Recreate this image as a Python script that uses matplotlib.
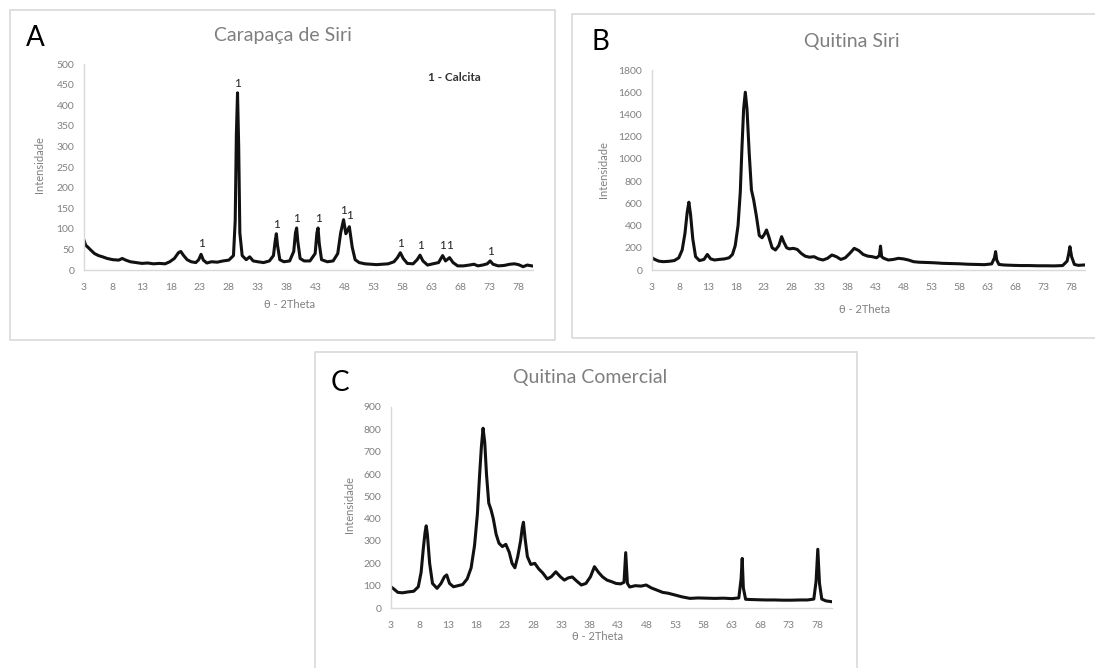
import matplotlib
matplotlib.use('Agg')
import matplotlib.pyplot as plt
from matplotlib.patches import Rectangle

plt.rcParams['font.family'] = ['Lato', 'DejaVu Sans']

# --- A: Carapaça de Siri ---
a_theta = [3, 3.3, 3.7, 4.2, 4.8, 5.5, 6.2, 7, 8, 9, 9.6, 10.2, 11, 12, 13, 14, 15, 16, 17, 17.8,
           18.6, 19.3, 19.7, 20.2, 20.8, 21.5, 22.3, 22.8, 23.2, 23.6, 24.2, 25, 26, 27, 28, 28.8,
           29.1, 29.3, 29.5, 29.7, 29.9, 30.3, 31, 31.6, 32.2, 33, 34, 35, 35.7, 36.0, 36.2, 36.4,
           36.8, 37.5, 38.5, 39.2, 39.5, 39.7, 39.9, 40.3, 41, 42, 42.9, 43.2, 43.4, 43.6, 44, 45,
           46, 46.8, 47.3, 47.8, 48.2, 48.8, 49.3, 49.8, 50.5, 51.5, 52.5, 53.5, 54.5, 55.5, 56.5,
           57.1, 57.6, 58.1, 58.8, 59.8, 60.5, 61.0, 61.5, 62.3, 63.2, 64.2, 64.9, 65.4, 66.1, 66.7,
           67.5, 68.5, 69.5, 70.3, 71, 71.8, 72.6, 73.1, 73.6, 74.5, 75.5, 76.5, 77.3, 78, 78.8,
           79.5, 80.3]
a_int = [72, 60, 55, 48, 40, 35, 32, 28, 25, 24, 28, 24, 20, 18, 16, 17, 15, 16, 15, 20,
         28, 42, 45, 35, 25, 20, 18, 25, 38, 24, 17, 20, 19, 22, 24, 35,
         120, 330, 430, 300, 90, 35, 25, 32, 22, 20, 18, 22, 35, 70, 88, 60,
         25, 20, 22, 45, 90, 102, 70, 28, 22, 22, 40, 90, 102, 65, 25, 20,
         22, 40, 90, 122, 88, 105, 55, 25, 18, 15, 14, 13, 14, 15, 20,
         30, 42, 28, 16, 15, 25, 36, 22, 12, 15, 18, 35, 22, 30, 18,
         10, 10, 12, 14, 10, 12, 15, 22, 14, 10, 11, 14, 15, 13, 8,
         12, 10]
a_peak_theta = [23.2, 29.5, 36.2, 39.7, 43.4, 47.8, 48.9, 57.6, 61.0, 64.9, 66.1, 73.1]
a_peak_label_y = [50, 440, 98, 112, 112, 132, 118, 52, 46, 45, 45, 32]

# --- B: Quitina Siri ---
b_theta = [3, 3.5, 4.2, 5, 6, 7, 7.8, 8.4, 8.9, 9.3, 9.6, 9.9, 10.3, 10.8, 11.5, 12.3, 12.9, 13.5,
           14.2, 15, 16, 16.8, 17.4, 17.9, 18.4, 18.8, 19.1, 19.4, 19.7, 20.0, 20.4, 20.8, 21.2,
           21.7, 22.2, 22.7, 23.1, 23.5, 23.9, 24.5, 25.1, 25.7, 26.2, 26.6, 27.1, 27.6, 28.3,
           29.0, 29.7, 30.4, 31.2, 32, 32.8, 33.6, 34.4, 35.2, 36, 36.8, 37.6, 38.4, 39.2, 40,
           40.8, 41.6, 42.4, 43.2, 43.7, 43.9, 44.1, 44.5, 45.3, 46.2, 47.1, 48, 48.9, 49.8, 50.8,
           52, 53.5, 55, 56.5, 58, 59.5, 61, 62.5, 63.8, 64.3, 64.5, 64.7, 65.1, 66, 67.5, 69,
           70.5, 72, 73.5, 75, 76.5, 77.3, 77.6, 77.8, 78.1, 78.6, 79.3, 80.3]
b_int = [110, 95, 80, 75, 78, 85, 110, 180, 330, 520, 610, 500, 280, 120, 85, 95, 140, 100,
         90, 95, 100, 110, 140, 220, 400, 700, 1100, 1450, 1600, 1450, 1050, 720, 630,
         480, 310, 290, 320, 360, 300, 200, 180, 220, 300, 250, 200, 190, 195,
         185, 150, 125, 115, 120, 100, 90, 105, 135, 120, 95, 110, 150, 195, 175,
         140, 125, 120, 110, 130, 215, 120, 105, 90, 95, 105, 100, 90, 75, 70,
         68, 65, 60, 58, 56, 52, 50, 48, 55, 110, 165, 90, 50, 45, 42, 40,
         40, 38, 38, 37, 40, 80, 150, 210, 120, 50, 42, 45]

# --- C: Quitina Comercial ---
c_theta = [3, 3.5, 4.2, 5, 6, 7, 7.8, 8.3, 8.7, 9.0, 9.2, 9.4, 9.8, 10.3, 11.1, 11.8, 12.4, 12.8,
           13.3, 14, 14.8, 15.6, 16.4, 17.1, 17.7, 18.2, 18.6, 18.9, 19.2, 19.5, 19.8, 20.2, 20.6,
           21.0, 21.5, 22, 22.6, 23.2, 23.8, 24.3, 24.8, 25.3, 25.8, 26.1, 26.3, 26.6, 27.0, 27.6,
           28.3, 29.0, 29.7, 30.5, 31.2, 32, 32.8, 33.5, 34.2, 34.9, 35.7, 36.5, 37.3, 38.1, 38.8,
           39.5, 40.2, 41, 41.8, 42.6, 43.4, 44.0, 44.3, 44.6, 45.0, 46, 47, 47.9, 48.8, 49.8,
           50.8, 51.8, 53, 54.2, 55.6, 57, 58.5, 60, 61.5, 63, 64.2, 64.6, 64.8, 65.0, 65.4, 66.2,
           67.5, 69, 70.5, 72, 73.5, 75, 76.3, 77.4, 77.8, 78.1, 78.4, 78.8, 79.5, 80.6]
c_int = [95, 85, 70, 68, 72, 75, 95, 160, 270, 340, 368, 330, 200, 110, 88, 110, 140, 148,
         110, 95, 100, 105, 130, 180, 280, 420, 600, 720, 805, 740, 600, 470, 440,
         400, 330, 290, 275, 285, 250, 200, 180, 230, 300, 360, 384, 310, 230, 195,
         200, 175, 157, 130, 140, 162, 140, 125, 135, 139, 120, 103, 110, 140, 185,
         160, 140, 125, 118, 110, 108, 115, 248, 110, 94, 100, 98, 103, 90, 80,
         70, 66, 58, 50, 43, 45, 44, 43, 44, 42, 45, 130, 222, 90, 39,
         38, 37, 36, 36, 35, 35, 36, 36, 40, 120, 263, 110, 40, 32, 28]

x_ticks = list(range(3, 80, 5))
a_yticks = list(range(0, 501, 50))
b_yticks = list(range(0, 1801, 200))
c_yticks = list(range(0, 901, 100))

GRAY = '#808080'
AXIS = '#d9d9d9'

fig = plt.figure(figsize=(10.95, 6.68), dpi=100)

# panel frames (pixels: x0, y0 top, x1, y1 bottom)
frames = [(10, 10, 555, 340), (572, 14, 1100, 338), (315, 352, 857, 672)]
for x0, y0, x1, y1 in frames:
    fig.patches.append(Rectangle((x0 / 1095, 1 - y1 / 668), (x1 - x0) / 1095, (y1 - y0) / 668,
                                 transform=fig.transFigure, fill=False, edgecolor=AXIS, lw=1.2))


def make_axes(rect, theta, inten, yticks, xmax):
    ax = fig.add_axes(rect)
    ax.plot(theta, inten, color='#111111', lw=2.2, solid_joinstyle='round')
    ax.set_xlim(3, xmax)
    ax.set_ylim(0, yticks[-1])
    ax.set_xticks(x_ticks)
    ax.set_yticks(yticks)
    ax.tick_params(length=0, labelsize=7.5, labelcolor=GRAY)
    ax.tick_params(axis='x', pad=9)
    ax.tick_params(axis='y', pad=7)
    for side in ['top', 'right']:
        ax.spines[side].set_visible(False)
    for side in ['left', 'bottom']:
        ax.spines[side].set_color(AXIS)
        ax.spines[side].set_linewidth(1.0)
    return ax


ax_a = make_axes([84 / 1095, 1 - 270 / 668, 449 / 1095, 206 / 668], a_theta, a_int, a_yticks, 80.5)
ax_b = make_axes([652 / 1095, 1 - 270 / 668, 433 / 1095, 200 / 668], b_theta, b_int, b_yticks, 80.5)
ax_c = make_axes([391 / 1095, 1 - 608 / 668, 441 / 1095, 201 / 668], c_theta, c_int, c_yticks, 80.6)

for th, ly in zip(a_peak_theta, a_peak_label_y):
    ax_a.text(th, ly, '1', ha='center', va='bottom', fontsize=8.5, color='#222222')
ax_a.text(67, 468, '1 - Calcita', ha='center', va='center', fontsize=8.5,
          fontweight='bold', color='#333333')

titles = [('Carapaça de Siri', 283, 35), ('Quitina Siri', 852, 42), ('Quitina Comercial', 590, 378)]
for txt, px, py in titles:
    fig.text(px / 1095, 1 - py / 668, txt, ha='center', va='center', fontsize=14, color='#7f7f7f')

letters = [('A', 35, 38), ('B', 600, 42), ('C', 340, 383)]
for txt, px, py in letters:
    fig.text(px / 1095, 1 - py / 668, txt, ha='center', va='center', fontsize=20, color='black')

xlabels = [(290, 305), (865, 310), (598, 637)]
for px, py in xlabels:
    fig.text(px / 1095, 1 - py / 668, 'θ - 2Theta', ha='center', va='center', fontsize=8,
             color=GRAY)

ylabels = [(40, 165), (603, 170), (350, 505)]
for px, py in ylabels:
    fig.text(px / 1095, 1 - py / 668, 'Intensidade', ha='center', va='center', fontsize=8,
             color=GRAY, rotation=90)

fig.savefig('out.png', dpi=100)
